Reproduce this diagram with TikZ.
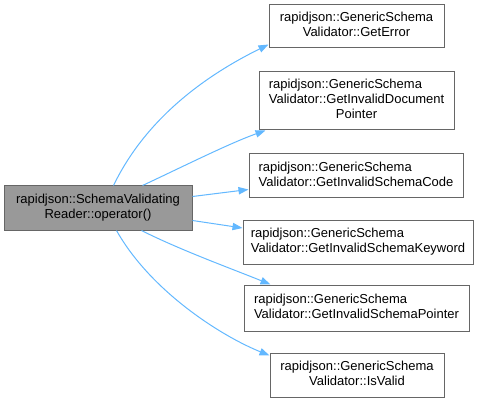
\documentclass[tikz,border=0pt]{standalone}
\usepackage{fontspec}
\setmainfont{Liberation Sans}
\usetikzlibrary{calc,arrows.meta}
\definecolor{edgeblue}{HTML}{63B8FF}
\definecolor{boxborder}{HTML}{666666}
\definecolor{srcfill}{HTML}{999999}
\newcommand{\twoline}[2]{\begin{tabular}{@{}l@{}}#1\\\multicolumn{1}{@{}c@{}}{#2}\end{tabular}}
\newcommand{\threeline}[3]{\begin{tabular}{@{}l@{}}#1\\\multicolumn{1}{@{}c@{}}{#2}\\\multicolumn{1}{@{}c@{}}{#3}\end{tabular}}
\begin{document}
\begin{tikzpicture}[x=0.75pt,y=-0.75pt,
  box/.style={draw=boxborder,line width=0.75pt,fill=white,inner sep=0pt,
    font=\fontsize{9.75}{11.25}\selectfont},
  srcbox/.style={box,fill=srcfill},
  callarrow/.style={draw=edgeblue,line width=0.75pt,-{Triangle[length=7.5pt,width=5.5pt]}}]
\useasboundingbox (0,0) rectangle (479,403);
\node[srcbox,minimum width=141pt,minimum height=33pt] (src) at (98,208)
  {\twoline{rapidjson::SchemaValidating}{Reader::operator()}};
\node[box,minimum width=131.25pt,minimum height=32.25pt] (e1) at (356.5,26.5)
  {\twoline{rapidjson::GenericSchema}{Validator::GetError}};
\node[box,minimum width=146.25pt,minimum height=43.5pt] (e2) at (356.5,101)
  {\threeline{rapidjson::GenericSchema}{Validator::GetInvalidDocument}{Pointer}};
\node[box,minimum width=160.5pt,minimum height=32.25pt] (e3) at (356,175.5)
  {\twoline{rapidjson::GenericSchema}{Validator::GetInvalidSchemaCode}};
\node[box,minimum width=172.5pt,minimum height=33pt] (e4) at (358,242)
  {\twoline{rapidjson::GenericSchema}{Validator::GetInvalidSchemaKeyword}};
\node[box,minimum width=168.75pt,minimum height=34.5pt] (e5) at (356.5,308)
  {\twoline{rapidjson::GenericSchema}{Validator::GetInvalidSchemaPointer}};
\node[box,minimum width=130.5pt,minimum height=33pt] (e6) at (357,375)
  {\twoline{rapidjson::GenericSchema}{Validator::IsValid}};
\draw[callarrow] ($(src.north west)+(110,0)$) .. controls (150,110) and (219,69) .. ($(e1.south west)+(0,-4)$);
\draw[callarrow] ($(src.north west)+(139,0)$) .. controls (180,168) and (230,143) .. ($(e2.south west)+(7,0)$);
\draw[callarrow] ($(src.north east)+(0,11)$) -- ($(e3.west)+(0,14)$);
\draw[callarrow] ($(src.north east)+(0,35)$) -- ($(e4.west)+(0,-14)$);
\draw[callarrow] ($(src.south west)+(138,0)$) .. controls (180,250) and (235,270) .. ($(e5.north west)+(27,0)$);
\draw[callarrow] ($(src.south west)+(113,0)$) .. controls (150,290) and (219,335) .. ($(e6.north west)+(0,3)$);
\end{tikzpicture}
\end{document}
